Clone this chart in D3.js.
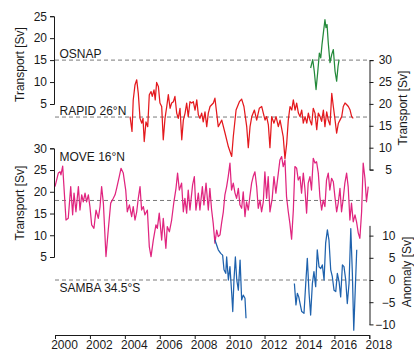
<!DOCTYPE html>
<html>
<head>
<meta charset="utf-8">
<script src="https://cdn.jsdelivr.net/npm/d3@7"></script>
<style>
  html, body { margin: 0; padding: 0; background: #fff; }
  svg { display: block; font-family: "Liberation Sans", Arial, sans-serif; }
</style>
</head>
<body>
<svg id="chart" width="414" height="352"></svg>
<script>
// ---- Overturning transport records (Sv) ----
const osnapYears  = [2014.64,2014.76,2014.85,2014.95,2015.05,2015.14,2015.22,2015.29,2015.37,2015.46,2015.52,2015.58,2015.65,2015.75,2015.85,2015.94,2016.04,2016.13,2016.21,2016.27];
const osnapValues = [13.2,15.1,12.4,8.3,12.4,16.6,15.5,18.5,21.2,24.2,22.4,23.1,18.9,14.4,16.3,17.4,12.4,10.2,13.6,15.1];

const rapidYears  = [2004.30,2004.41,2004.48,2004.58,2004.68,2004.77,2004.87,2004.97,2005.04,2005.11,2005.21,2005.31,2005.40,2005.50,2005.57,2005.67,2005.74,2005.82,2005.92,2006.01,2006.11,2006.20,2006.30,2006.40,2006.49,2006.59,2006.68,2006.78,2006.87,2006.97,2007.06,2007.16,2007.26,2007.35,2007.45,2007.54,2007.63,2007.73,2007.83,2007.92,2008.02,2008.12,2008.21,2008.30,2008.40,2008.49,2008.59,2008.69,2008.78,2008.88,2009.07,2009.16,2009.35,2009.55,2009.74,2009.93,2010.12,2010.21,2010.37,2010.56,2010.69,2010.82,2010.98,2011.07,2011.17,2011.27,2011.42,2011.55,2011.70,2011.84,2011.93,2012.03,2012.12,2012.22,2012.31,2012.41,2012.54,2012.66,2012.79,2012.89,2012.98,2013.07,2013.17,2013.27,2013.36,2013.46,2013.56,2013.65,2013.75,2013.84,2013.94,2014.03,2014.13,2014.22,2014.32,2014.42,2014.51,2014.60,2014.70,2014.79,2014.89,2014.99,2015.08,2015.18,2015.27,2015.37,2015.46,2015.56,2015.65,2015.75,2015.85,2015.94,2016.04,2016.13,2016.23,2016.32,2016.42,2016.51,2016.61,2016.71,2016.80,2016.90,2016.99,2017.08];
const rapidValues = [17.1,13.7,20.9,24.3,25.5,22.4,16.7,15.6,16.7,11.4,15.9,14.8,22.1,22.8,21.7,23.2,20.9,24.9,24.0,20.2,19.4,11.8,16.7,19.4,22.1,19.0,20.2,20.5,21.7,17.9,16.7,19.0,11.8,16.3,17.9,20.2,17.1,20.5,20.2,20.5,18.6,20.9,17.5,16.7,17.9,15.9,18.2,14.8,17.9,19.4,20.2,21.3,14.8,16.3,13.3,10.2,8.0,12.5,18.6,20.5,21.1,19.4,14.8,10.0,14.8,17.1,18.6,16.3,19.0,19.4,17.9,16.3,17.1,15.2,10.0,17.1,15.6,17.1,14.8,16.3,14.4,12.5,7.5,11.0,16.3,19.4,18.6,20.9,18.6,20.2,17.9,17.1,18.6,15.6,17.1,15.6,17.9,16.3,15.2,19.0,17.9,14.1,17.9,17.1,16.0,18.6,14.8,18.2,16.3,15.2,22.4,19.4,16.3,13.3,15.6,16.3,17.1,19.4,20.2,19.8,19.4,18.6,17.1,16.7];

const moveYears  = [2000.00,2000.19,2000.29,2000.34,2000.44,2000.63,2000.76,2000.90,2001.01,2001.09,2001.20,2001.34,2001.43,2001.53,2001.62,2001.72,2001.81,2001.91,2002.00,2002.10,2002.23,2002.35,2002.48,2002.58,2002.67,2002.77,2002.92,2003.05,2003.19,2003.34,2003.44,2003.53,2003.68,2003.78,2003.91,2004.05,2004.14,2004.26,2004.39,2004.48,2004.58,2004.68,2004.77,2004.87,2004.96,2005.06,2005.15,2005.29,2005.40,2005.50,2005.63,2005.78,2005.86,2005.97,2006.11,2006.20,2006.35,2006.43,2006.55,2006.68,2006.81,2006.93,2007.02,2007.12,2007.25,2007.35,2007.44,2007.54,2007.63,2007.73,2007.88,2007.98,2008.07,2008.21,2008.30,2008.44,2008.53,2008.65,2008.78,2008.87,2008.97,2009.06,2009.16,2009.26,2009.35,2009.45,2009.54,2009.64,2009.73,2009.83,2009.92,2010.02,2010.11,2010.21,2010.31,2010.40,2010.50,2010.59,2010.69,2010.78,2010.88,2010.97,2011.07,2011.16,2011.26,2011.35,2011.45,2011.55,2011.64,2011.74,2011.83,2011.93,2012.02,2012.12,2012.21,2012.31,2012.44,2012.54,2012.65,2012.79,2012.88,2012.98,2013.07,2013.17,2013.26,2013.36,2013.45,2013.55,2013.65,2013.74,2013.84,2013.93,2014.03,2014.12,2014.22,2014.31,2014.41,2014.50,2014.60,2014.69,2014.79,2014.89,2014.98,2015.08,2015.17,2015.27,2015.36,2015.46,2015.55,2015.65,2015.74,2015.84,2015.94,2016.03,2016.13,2016.22,2016.32,2016.41,2016.51,2016.60,2016.70,2016.79,2016.89,2016.98,2017.08,2017.18,2017.27,2017.37,2017.46,2017.56,2017.65,2017.75,2017.84,2017.94];
const moveValues = [21.2,24.3,24.6,23.9,25.9,13.5,13.9,21.2,14.7,19.7,15.4,21.2,15.8,19.3,17.7,19.7,17.7,19.3,16.6,12.4,11.6,15.8,13.9,16.6,21.2,17.4,5.1,11.2,17.4,18.5,19.3,20.8,23.5,25.4,24.3,20.4,15.4,17.0,14.3,16.6,13.5,15.4,18.5,21.2,15.8,16.6,14.7,15.8,7.4,5.1,8.9,12.4,11.6,15.1,8.9,13.9,7.0,12.0,10.8,13.5,17.7,20.8,24.3,20.4,22.0,15.4,18.5,15.1,20.4,15.8,21.6,23.5,15.8,19.7,15.8,21.2,17.0,22.0,15.8,20.8,15.8,12.8,8.2,11.2,9.7,10.1,12.8,15.4,19.3,21.2,23.5,26.6,20.4,22.0,19.7,18.5,20.8,17.0,16.2,20.0,14.3,17.7,15.8,18.9,22.0,23.5,24.6,21.2,16.2,18.1,15.4,17.7,24.6,18.5,23.5,15.4,18.5,23.5,19.7,24.3,27.3,28.1,25.8,27.3,18.9,15.4,12.8,9.1,15.8,25.8,25.4,22.7,23.5,19.7,24.3,20.8,15.1,22.0,23.5,20.4,27.7,26.6,26.9,24.3,18.9,15.8,18.1,16.6,22.7,24.3,20.4,23.1,22.3,18.9,15.4,17.4,20.8,15.4,18.5,22.0,24.3,21.2,13.5,17.4,13.1,14.7,13.1,10.5,9.3,15.4,26.6,23.1,17.7,21.2];

// SAMBA anomaly: null marks the gap between the two deployments
const sambaYears  = [2009.16,2009.35,2009.49,2009.60,2009.68,2009.78,2009.83,2009.93,2010.02,2010.12,2010.18,2010.25,2010.33,2010.41,2010.50,2010.60,2010.69,2010.78,2010.88,2010.94,2012.30,2013.71,2013.80,2013.88,2013.96,2014.03,2014.13,2014.26,2014.36,2014.45,2014.55,2014.64,2014.74,2014.83,2014.93,2015.02,2015.12,2015.22,2015.31,2015.41,2015.50,2015.60,2015.69,2015.79,2015.88,2015.98,2016.08,2016.17,2016.27,2016.36,2016.46,2016.55,2016.65,2016.74,2016.84,2016.94,2017.03,2017.11,2017.18,2017.28];
const sambaValues = [9.0,6.8,6.0,5.6,2.3,1.5,5.2,0.0,3.0,-3.0,-7.1,0.0,5.2,0.0,-2.3,4.5,-4.5,-3.4,-4.1,-8.6,null,-0.8,-5.6,-3.0,-3.8,-5.2,-7.1,-7.5,-0.8,4.9,-3.0,-7.9,-0.8,1.9,-1.5,6.8,3.0,2.6,3.4,0.0,8.3,11.3,9.0,2.3,0.8,-2.3,-2.6,1.5,-0.4,-3.8,3.4,3.0,0.0,-5.3,-0.8,11.6,1.5,-11.3,-3.8,6.8];

// Record means (dashed reference lines)
const osnapMean = 15, rapidMean = 17, moveMean = 18, sambaMean = 0;

// Tick labels
const yearTicks      = [2000,2002,2004,2006,2008,2010,2012,2014,2016,2018];
const osnapTicks     = [5,10,15,20,25];
const rapidTicks     = [5,10,15,20,25,30];
const moveTicks      = [5,10,15,20,25,30];
const anomalyTicks   = [-10,-5,0,5,10];

const colors = { osnap: "#23893a", rapid: "#e4191e", move: "#e0257f", samba: "#1f62ad" };

const svg = d3.select("#chart");
const left = 54, right = 369.5;

const x = d3.scaleLinear().domain([2000, 2018]).range([55, 369.3]);
const yOsnap = d3.scaleLinear().domain([5, 25]).range([104, 16.2]);
const yRapid = d3.scaleLinear().domain([5, 30]).range([169.6, 60.1]);
const yMove  = d3.scaleLinear().domain([5, 30]).range([257, 148.3]);
const ySamba = d3.scaleLinear().domain([-10, 12.3]).range([324.4, 225.4]);

// dashed mean lines
const means = [[yOsnap, osnapMean], [yRapid, rapidMean], [yMove, moveMean], [ySamba, sambaMean]];
svg.append("g").selectAll("line").data(means).join("line")
  .attr("x1", 55).attr("x2", right)
  .attr("y1", d => d[0](d[1])).attr("y2", d => d[0](d[1]))
  .attr("stroke", "#7a7a7a").attr("stroke-width", 1).attr("stroke-dasharray", "4,3");

function drawSeries(years, values, yScale, color) {
  const pts = years.map((t, i) => [t, values[i]]);
  const line = d3.line()
    .defined(d => d[1] !== null)
    .x(d => x(d[0])).y(d => yScale(d[1]));
  svg.append("path").datum(pts)
    .attr("fill", "none").attr("stroke", color)
    .attr("stroke-width", 1.25).attr("stroke-linejoin", "round")
    .attr("d", line);
}
drawSeries(rapidYears, rapidValues, yRapid, colors.rapid);
drawSeries(moveYears, moveValues, yMove, colors.move);
drawSeries(osnapYears, osnapValues, yOsnap, colors.osnap);
drawSeries(sambaYears, sambaValues, ySamba, colors.samba);

// axes
function styleAxis(g) {
  g.selectAll(".domain, .tick line").attr("stroke", "#1a1a1a").attr("stroke-width", 1);
  g.selectAll("text").attr("fill", "#1a1a1a").attr("font-size", 12)
    .attr("font-family", "Liberation Sans, Arial, sans-serif");
}
svg.append("g").attr("transform", `translate(${left},0)`)
  .call(d3.axisLeft(yOsnap).tickValues(osnapTicks).tickSize(4).tickPadding(3))
  .call(styleAxis);
svg.append("g").attr("transform", `translate(${left},0)`)
  .call(d3.axisLeft(yMove).tickValues(moveTicks).tickSize(4).tickPadding(3))
  .call(styleAxis);
const rAx = svg.append("g").attr("transform", `translate(${right},0)`)
  .call(d3.axisRight(yRapid).tickValues(rapidTicks).tickSize(4))
  .call(styleAxis);
rAx.selectAll("text").attr("text-anchor", "end").attr("x", 22.5);
const sAx = svg.append("g").attr("transform", `translate(${right},0)`)
  .call(d3.axisRight(ySamba).tickValues(anomalyTicks).tickSize(4).tickSizeOuter(0)
        .tickFormat(d => d < 0 ? "\u2212" + Math.abs(d) : d))
  .call(styleAxis);
sAx.selectAll("text").attr("text-anchor", "end").attr("x", 26);
const xAx = svg.append("g").attr("transform", "translate(0,335)")
  .call(d3.axisBottom(x).tickValues(yearTicks).tickFormat(d3.format("d")).tickSize(4).tickPadding(1.5))
  .call(styleAxis);
xAx.selectAll("text").attr("dx", 9);

// record labels
const labels = [
  ["OSNAP", yOsnap(osnapMean) - 2.5],
  ["RAPID 26\u00b0N", yRapid(rapidMean) - 2],
  ["MOVE 16\u00b0N", yMove(30) + 12.3],
  ["SAMBA 34.5\u00b0S", ySamba(sambaMean) + 11.7]
];
svg.append("g").selectAll("text").data(labels).join("text")
  .attr("x", 59.5).attr("y", d => d[1])
  .attr("font-size", 12).attr("fill", "#1a1a1a").text(d => d[0]);

// axis titles
function vTitle(text, xPos, yCenter) {
  svg.append("text")
    .attr("transform", `translate(${xPos},${yCenter}) rotate(-90)`)
    .attr("text-anchor", "middle").attr("font-size", 12).attr("fill", "#1a1a1a")
    .text(text);
}
vTitle("Transport [Sv]", 23.5, 64.5);
vTitle("Transport [Sv]", 23.5, 203);
vTitle("Transport [Sv]", 406.5, 108);
vTitle("Anomaly [Sv]", 410.5, 272);
</script>
</body>
</html>
